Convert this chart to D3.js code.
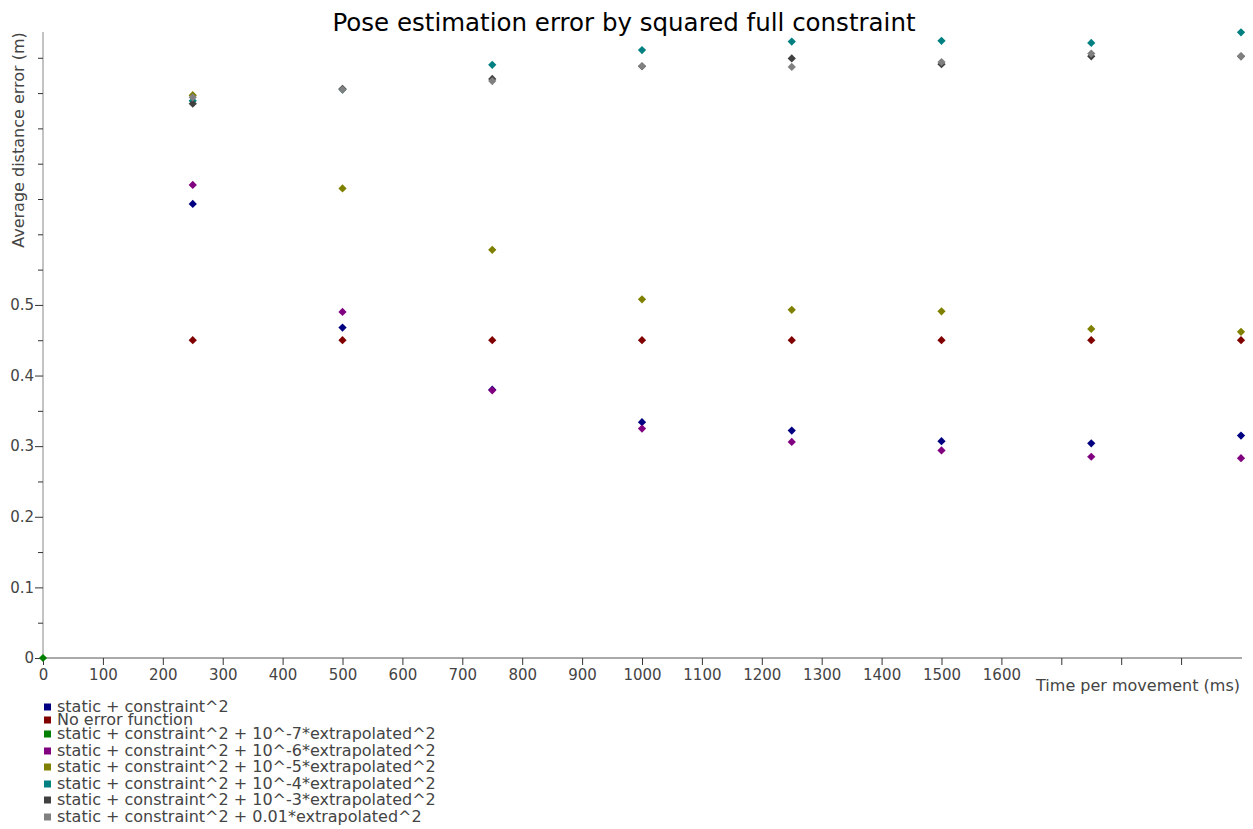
<!DOCTYPE html>
<html>
<head>
<meta charset="utf-8">
<script src="https://cdn.jsdelivr.net/npm/d3@7"></script>
<style>
  html, body { margin: 0; padding: 0; background: #fff; }
  svg { display: block; font-family: "DejaVu Sans", sans-serif; }
</style>
</head>
<body>
<svg id="chart" width="1253" height="829"></svg>
<script>
// Time per movement (ms)
const times = [0, 250, 500, 750, 1000, 1250, 1500, 1750, 2000];

// Average distance error (m) per error function; null = no sample
const staticConstraint = [null, 0.643, 0.468, 0.380, 0.334, 0.322, 0.307, 0.304, 0.315];
const noErrorFunction  = [null, 0.450, 0.450, 0.450, 0.450, 0.450, 0.450, 0.450, 0.450];
const extrap1e7        = [0, null, null, null, null, null, null, null, null];
const extrap1e6        = [null, 0.670, 0.490, 0.379, 0.325, 0.306, 0.294, 0.285, 0.283];
const extrap1e5        = [null, 0.797, 0.665, 0.578, 0.508, 0.493, 0.491, 0.466, 0.462];
const extrap1e4        = [null, 0.789, 0.805, 0.840, 0.861, 0.873, 0.874, 0.871, 0.886];
const extrap1e3        = [null, 0.785, 0.806, 0.820, 0.838, 0.849, 0.841, 0.852, 0.852];
const extrap001        = [null, 0.794, 0.805, 0.817, 0.838, 0.837, 0.844, 0.856, 0.852];

const seriesNames = [
  "static + constraint^2",
  "No error function",
  "static + constraint^2 + 10^-7*extrapolated^2",
  "static + constraint^2 + 10^-6*extrapolated^2",
  "static + constraint^2 + 10^-5*extrapolated^2",
  "static + constraint^2 + 10^-4*extrapolated^2",
  "static + constraint^2 + 10^-3*extrapolated^2",
  "static + constraint^2 + 0.01*extrapolated^2"
];
const seriesColors = ["#000080", "#800000", "#008000", "#800080", "#808000", "#008080", "#404040", "#808080"];
const seriesValues = [staticConstraint, noErrorFunction, extrap1e7, extrap1e6, extrap1e5, extrap1e4, extrap1e3, extrap001];

const xTicks = d3.range(0, 2000, 100);          // 0 .. 1900
const xTickLabels = d3.range(0, 1700, 100);     // labelled up to 1600
const yTicks = d3.range(0, 0.851, 0.05).map(v => +v.toFixed(2));
const yTickLabels = [0, 0.1, 0.2, 0.3, 0.4, 0.5];

const svg = d3.select("#chart");
const plot = { left: 43, right: 1241, top: 32, bottom: 658 };

const x = d3.scaleLinear().domain([0, 2000]).range([plot.left, plot.right]);
const y = d3.scaleLinear().domain([0, 0.8865]).range([plot.bottom, plot.top]);

const isLabelled = v => yTickLabels.some(l => Math.abs(l - v) < 1e-9);

// Title
svg.append("text")
  .attr("x", 624).attr("y", 31)
  .attr("text-anchor", "middle")
  .attr("font-size", 24.5)
  .attr("fill", "#000")
  .text("Pose estimation error by squared full constraint");

// Y axis: long ticks where labelled, short ticks between
const yAxis = svg.append("g")
  .attr("transform", `translate(${plot.left},0)`)
  .call(d3.axisLeft(y).tickValues(yTicks).tickSize(5).tickPadding(3)
    .tickFormat(v => isLabelled(v) ? d3.format("")(v) : ""));
yAxis.select(".domain").attr("stroke", "#888").attr("d", `M0,${plot.bottom}V${plot.top}`);
yAxis.selectAll(".tick line")
  .attr("stroke", "#333")
  .attr("x2", d => isLabelled(d) ? -8 : -5);
yAxis.selectAll(".tick text")
  .attr("x", -9)
  .attr("font-size", 15).attr("fill", "#444")
  .attr("font-family", "DejaVu Sans, sans-serif");

// X axis
const xAxis = svg.append("g")
  .attr("transform", `translate(0,${plot.bottom})`)
  .call(d3.axisBottom(x).tickValues(xTicks).tickSize(7).tickPadding(4)
    .tickFormat(v => xTickLabels.includes(v) ? String(v) : ""));
xAxis.select(".domain").attr("stroke", "#555").attr("d", `M${plot.left},0H${plot.right + 1}`);
xAxis.selectAll(".tick line").attr("stroke", "#333");
xAxis.selectAll(".tick text").attr("font-size", 15).attr("fill", "#444")
  .attr("font-family", "DejaVu Sans, sans-serif");

// Axis titles
svg.append("text")
  .attr("x", 1240).attr("y", 691)
  .attr("text-anchor", "end")
  .attr("font-size", 16)
  .attr("fill", "#444")
  .text("Time per movement (ms)");

svg.append("text")
  .attr("transform", "translate(24,140) rotate(-90)")
  .attr("text-anchor", "middle")
  .attr("font-size", 16)
  .attr("fill", "#444")
  .text("Average distance error (m)");

// Points: diamond markers, series drawn in legend order
const diamond = d3.symbol().type(d3.symbolSquare).size(34);
seriesValues.forEach((vals, i) => {
  const pts = times.map((t, j) => ({ t, v: vals[j] })).filter(d => d.v !== null);
  svg.append("g").selectAll("path")
    .data(pts)
    .join("path")
    .attr("d", diamond)
    .attr("transform", d => `translate(${x(d.t)},${y(d.v)}) rotate(45)`)
    .attr("fill", seriesColors[i]);
});

// Legend
const legendRows = [707, 720, 734, 751, 767, 784, 800, 817];
const legend = svg.append("g");
seriesNames.forEach((name, i) => {
  const cy = legendRows[i];
  legend.append("rect")
    .attr("x", 44).attr("y", cy - 3.5)
    .attr("width", 7).attr("height", 7)
    .attr("fill", seriesColors[i]);
  legend.append("text")
    .attr("x", 57).attr("y", cy + 5)
    .attr("font-size", 16)
    .attr("fill", "#444")
    .text(name);
});
</script>
</body>
</html>
